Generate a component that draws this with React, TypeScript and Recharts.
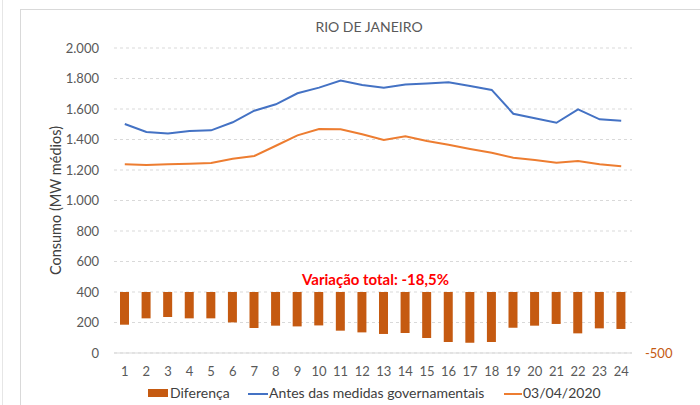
import React from 'react';
import { ComposedChart, Bar, Line, XAxis, YAxis, CartesianGrid } from 'recharts';

// hourly consumption, Rio de Janeiro (MW médios)
const hours = [1, 2, 3, 4, 5, 6, 7, 8, 9, 10, 11, 12, 13, 14, 15, 16, 17, 18, 19, 20, 21, 22, 23, 24];
const before = [1502, 1449, 1440, 1456, 1460, 1513, 1589, 1631, 1703, 1740, 1786, 1757, 1740, 1760, 1768, 1775, 1751, 1725, 1569, 1539, 1510, 1598, 1532, 1523];
const apr03 = [1237, 1233, 1237, 1241, 1246, 1274, 1292, 1359, 1427, 1469, 1467, 1434, 1397, 1421, 1390, 1366, 1338, 1313, 1281, 1266, 1248, 1259, 1237, 1224];
const diff = [-268, -216, -205, -216, -216, -249, -295, -276, -282, -274, -317, -331, -344, -336, -377, -410, -416, -410, -293, -276, -262, -339, -298, -303];
const leftTicks = [0, 200, 400, 600, 800, 1000, 1200, 1400, 1600, 1800, 2000];
const rightTicks = [-500];

const data = hours.map((h, i) => ({ hour: h, before: before[i], apr03: apr03[i], diff: diff[i] }));

const FONT = 'Lato, "Open Sans", sans-serif';
const BLUE = '#4472C4';
const ORANGE = '#ED7D31';
const BROWN = '#C55A11';

const fmt = (v: number) => String(v).replace(/\B(?=(\d{3})+(?!\d))/g, '.');

export default function App() {
  return (
    <div style={{ position: 'fixed', left: 0, top: 0, width: 700, height: 405, overflow: 'hidden', background: '#fff', fontFamily: FONT }}>
      <div style={{ position: 'absolute', left: 2, top: 0, width: 1, height: 405, background: '#E6E6E6' }} />
      <div style={{ position: 'absolute', left: 20, top: 9, width: 720, height: 420, borderTop: '1px solid #D9D9D9', borderLeft: '1px solid #D9D9D9' }} />
      <div style={{ position: 'absolute', left: 0, width: 738, top: 18, textAlign: 'center', fontSize: 14, color: '#595959' }}>
        RIO DE JANEIRO
      </div>
      <div style={{ position: 'absolute', left: 0, top: 0 }}>
        <ComposedChart width={700} height={405} data={data} margin={{ top: 48, right: 0, bottom: 22, left: 0 }}>
          <CartesianGrid yAxisId="left" vertical={false} stroke="#D9D9D9" strokeDasharray="3 3" />
          <XAxis
            dataKey="hour"
            height={30}
            tickLine={false}
            axisLine={{ stroke: '#D9D9D9' }}
            tick={{ fontSize: 13, fill: '#595959', fontFamily: FONT }}
            tickMargin={8}
            interval={0}
          />
          <YAxis
            yAxisId="left"
            width={114}
            domain={[0, 2000]}
            ticks={leftTicks}
            tickFormatter={fmt}
            axisLine={false}
            tickLine={false}
            tickSize={0}
            tickMargin={15}
            tick={{ fontSize: 13, fill: '#595959', fontFamily: FONT }}
            label={{ value: 'Consumo (MW médios)', angle: -90, position: 'insideLeft', offset: 0, dx: 56, dy: 0, fontSize: 14.5, fill: '#404040', fontFamily: FONT, textAnchor: 'middle' }}
          />
          <YAxis
            yAxisId="right"
            orientation="right"
            width={68}
            domain={[-500, 2000]}
            ticks={rightTicks}
            axisLine={false}
            tickLine={false}
            tickSize={0}
            tickMargin={13}
            tick={{ fontSize: 13, fill: BROWN, fontFamily: FONT }}
            label={{ value: 'Diferença (MW médios)', angle: -90, position: 'insideRight', offset: 0, dx: 6, fontSize: 13, fill: ORANGE, fontFamily: FONT, textAnchor: 'middle' }}
          />
          <Bar yAxisId="right" dataKey="diff" name="Diferença" fill={BROWN} barSize={9} isAnimationActive={false} />
          <Line yAxisId="left" type="linear" dataKey="before" name="Antes das medidas governamentais" stroke={BLUE} strokeWidth={2} dot={false} isAnimationActive={false} />
          <Line yAxisId="left" type="linear" dataKey="apr03" name="03/04/2020" stroke={ORANGE} strokeWidth={2} dot={false} isAnimationActive={false} />
        </ComposedChart>
      </div>
      <div style={{ position: 'absolute', left: 302, top: 270, fontSize: 15, fontWeight: 700, color: '#FF0000', whiteSpace: 'nowrap' }}>
        Variação total: -18,5%
      </div>
      <div style={{ position: 'absolute', top: 384, left: 0, width: 700, height: 18, fontSize: 14, color: '#404040' }}>
        <div style={{ position: 'absolute', left: 148, top: 5, width: 20, height: 8, background: BROWN }} />
        <span style={{ position: 'absolute', left: 170, top: 0 }}>Diferença</span>
        <div style={{ position: 'absolute', left: 248, top: 9, width: 20, height: 2, background: BLUE }} />
        <span style={{ position: 'absolute', left: 269, top: 0 }}>Antes das medidas governamentais</span>
        <div style={{ position: 'absolute', left: 504, top: 9, width: 18, height: 2, background: ORANGE }} />
        <span style={{ position: 'absolute', left: 523, top: 0 }}>03/04/2020</span>
      </div>
    </div>
  );
}
